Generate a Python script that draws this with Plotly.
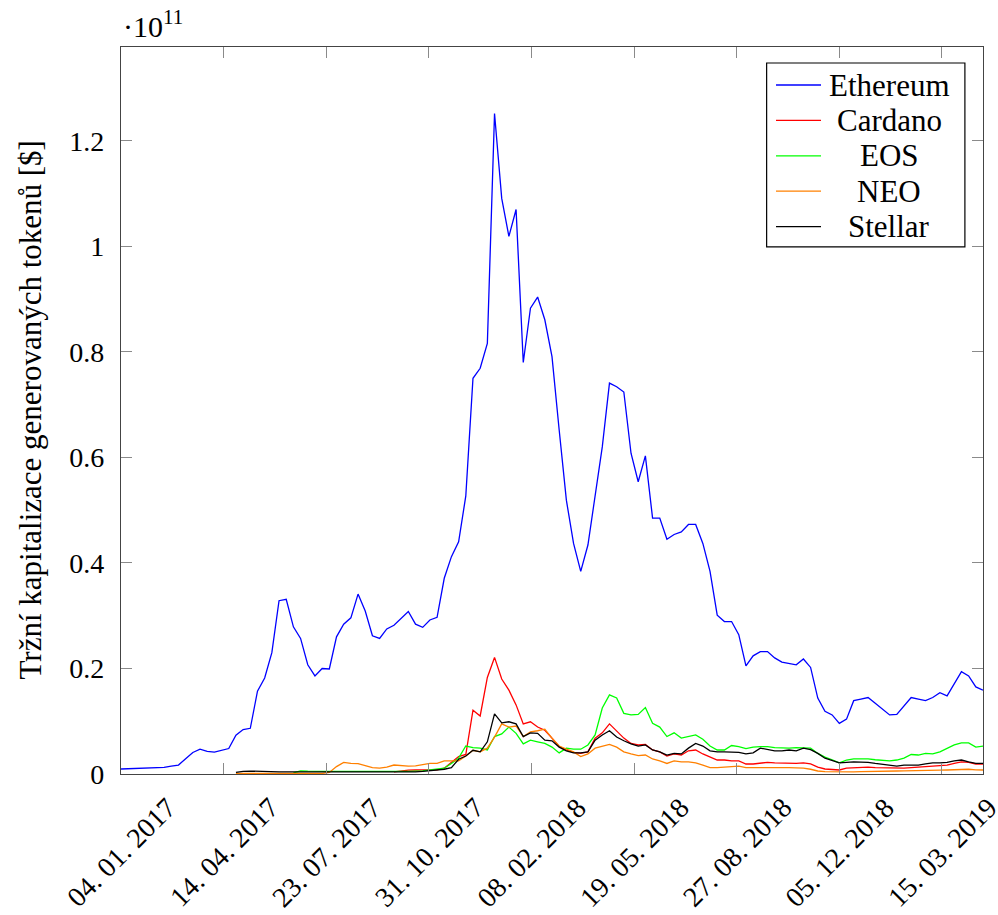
import pandas as pd
import plotly.graph_objects as go

# ---------------- data (market cap, billions USD, weekly from 2017-01-04) ----------------
start_date = "2017-01-04"
n_weeks = 121

series_names = ["Ethereum", "Cardano", "EOS", "NEO", "Stellar"]
series_colors = ["#0000ff", "#ff0000", "#00ff00", "#ff8000", "#000000"]

ethereum = [
    0.95, 1.0, 1.05, 1.1, 1.15, 1.2, 1.27, 1.48, 1.7, 2.9,
    4.08, 4.70, 4.30, 4.13, 4.55, 4.83, 7.36, 8.42, 8.66, 15.7,
    18.2, 23.0, 32.85, 33.1, 27.9, 25.7, 20.7, 18.6, 20.0, 19.9,
    26.0, 28.4, 29.6, 34.1, 30.9, 26.2, 25.7, 27.5, 28.2, 29.5,
    30.8, 28.4, 27.8, 29.2, 29.7, 37.1, 41.2, 44.0, 52.7, 75.0,
    76.9, 81.6, 125.2, 109.1, 101.9, 107.0, 78.0, 88.3, 90.4, 86.1,
    79.1, 65.2, 51.9, 43.7, 38.4, 43.4, 52.3, 62.0, 74.1, 73.4,
    72.4, 60.8, 55.4, 60.3, 48.5, 48.5, 44.5, 45.4, 45.9, 47.3,
    47.3, 43.7, 38.4, 30.1, 28.9, 28.9, 26.4, 20.5, 22.4, 23.2,
    23.2, 22.0, 21.2, 21.0, 20.7, 21.8, 20.2, 14.4, 11.9, 11.2,
    9.6, 10.4, 13.9, 14.2, 14.5, 13.4, 12.3, 11.2, 11.3, 12.8,
    14.5, 14.2, 13.9, 14.5, 15.4, 14.8, 17.2, 19.4, 18.6, 16.5,
    15.9,
]

cardano = [None] * 38 + [
    0.4, 0.6, 0.75, 0.76, 0.76, 0.76, 0.8, 1.1, 2.2, 3.3,
    3.7, 12.1, 11.0, 18.3, 22.1, 18.0, 15.9, 13.1, 9.5, 9.9,
    8.9, 8.3, 6.8, 5.2, 4.55, 4.1, 3.9, 4.2, 6.8, 7.8,
    9.5, 8.2, 6.8, 5.8, 5.5, 5.6, 4.55, 4.2, 3.4, 3.8,
    3.6, 4.4, 4.55, 3.8, 3.2, 2.65, 2.65, 2.5, 2.5, 1.9,
    1.9, 2.1, 2.2, 2.1, 2.05, 2.0, 2.0, 2.1, 1.9, 1.3,
    0.95, 0.85, 0.76, 1.1, 1.15, 1.2, 1.3, 1.2, 1.15, 1.1,
    1.1, 1.1, 1.2, 1.3, 1.35, 1.4, 1.5, 1.7, 2.0, 2.3,
    2.2, 1.9, 1.9,
]

eos = [None] * 24 + [
    0.2, 0.6, 0.55, 0.5, 0.5, 0.5, 0.5, 0.5, 0.45, 0.45,
    0.45, 0.4, 0.4, 0.4, 0.45, 0.5, 0.5, 0.55, 0.6, 0.8,
    1.0, 1.1, 2.0, 3.0, 5.3, 5.0, 4.9, 4.55, 7.1, 7.6,
    8.9, 7.7, 5.7, 6.4, 6.1, 5.8, 5.1, 4.0, 4.9, 4.7,
    4.7, 5.5, 7.4, 12.5, 15.0, 14.4, 11.5, 11.2, 11.3, 12.6,
    9.6, 8.9, 7.1, 7.8, 6.8, 7.1, 7.4, 6.6, 5.3, 4.55,
    4.55, 5.4, 5.2, 4.8, 5.1, 5.2, 5.2, 5.0, 4.9, 4.9,
    5.0, 4.9, 4.9, 3.9, 3.2, 2.7, 2.1, 2.65, 2.85, 2.85,
    2.85, 2.7, 2.6, 2.5, 2.65, 3.0, 3.7, 3.6, 3.9, 3.8,
    4.2, 4.9, 5.5, 5.9, 5.9, 5.1, 5.3,
]

neo = [None] * 16 + [
    0.1, 0.1, 0.1, 0.1, 0.1, 0.1, 0.1, 0.1, 0.1, 0.1,
    0.1, 0.1, 0.1, 0.3, 1.4, 2.2, 2.0, 1.95, 1.6, 1.2,
    1.1, 1.3, 1.7, 1.6, 1.5, 1.55, 1.8, 2.0, 2.0, 2.5,
    2.5, 2.5, 3.4, 4.5, 4.2, 4.9, 7.0, 9.5, 8.9, 9.1,
    7.1, 8.0, 8.2, 8.5, 6.8, 5.3, 4.7, 4.2, 3.3, 3.8,
    4.9, 5.2, 5.6, 5.1, 4.2, 3.8, 3.5, 3.6, 2.85, 2.5,
    2.0, 2.5, 2.3, 2.3, 2.1, 1.7, 1.2, 1.2, 1.3, 1.4,
    1.5, 1.2, 1.2, 1.3, 1.3, 1.2, 1.2, 1.2, 1.15, 1.1,
    0.9, 0.57, 0.44, 0.4, 0.38, 0.4, 0.42, 0.45, 0.5, 0.5,
    0.52, 0.57, 0.57, 0.6, 0.6, 0.63, 0.65, 0.7, 0.72, 0.76,
    0.85, 0.95, 0.9, 0.8, 0.76,
]

stellar = [None] * 16 + [
    0.3, 0.5, 0.55, 0.5, 0.4, 0.4, 0.4, 0.4, 0.4, 0.4,
    0.35, 0.35, 0.35, 0.35, 0.3, 0.3, 0.3, 0.3, 0.3, 0.3,
    0.3, 0.3, 0.3, 0.35, 0.35, 0.4, 0.5, 0.6, 0.8, 0.9,
    1.2, 2.8, 3.4, 4.5, 4.2, 6.1, 11.4, 9.7, 9.9, 9.5,
    7.1, 7.8, 7.7, 6.4, 6.3, 5.1, 4.4, 4.0, 4.0, 4.2,
    6.4, 7.4, 8.2, 7.0, 6.3, 5.7, 5.3, 5.5, 4.55, 4.2,
    3.6, 3.9, 3.8, 4.9, 5.8, 5.3, 4.4, 4.2, 4.2, 4.2,
    4.1, 3.8, 4.0, 4.9, 4.7, 4.4, 4.4, 4.55, 4.4, 4.9,
    4.6, 3.9, 3.0, 2.5, 2.1, 2.2, 2.3, 2.25, 2.2, 2.0,
    1.8, 1.6, 1.5, 1.7, 1.7, 1.7, 1.9, 2.1, 2.1, 2.2,
    2.5, 2.65, 2.3, 2.0, 2.0,
]

x_tick_dates = ["2017-01-04", "2017-04-14", "2017-07-23", "2017-10-31", "2018-02-08",
                "2018-05-19", "2018-08-27", "2018-12-05", "2019-03-15"]
x_tick_labels = ["04. 01. 2017", "14. 04. 2017", "23. 07. 2017", "31. 10. 2017", "08. 02. 2018",
                 "19. 05. 2018", "27. 08. 2018", "05. 12. 2018", "15. 03. 2019"]
y_tick_values = [0, 0.2e11, 0.4e11, 0.6e11, 0.8e11, 1.0e11, 1.2e11]
y_tick_labels = ["0", "0.2", "0.4", "0.6", "0.8", "1", "1.2"]
y_title = "Tržní kapitalizace generovaných tokenů [$]"

# -----------------------------------------------------------------------------------------
dates = pd.date_range(start_date, periods=n_weeks, freq="7D")
all_series = [ethereum, cardano, eos, neo, stellar]
for s in all_series:
    assert len(s) == n_weeks, len(s)

FONT = "Liberation Serif"
FS = 28       # numbers
FS_WORDS = 31 # words (Computer Modern is wider than Times)

fig = go.Figure()
for name, color, vals in zip(series_names, series_colors, all_series):
    fig.add_trace(go.Scatter(
        x=dates, y=[None if v is None else v * 1e9 for v in vals],
        mode="lines", name=name, line=dict(color=color, width=1.3),
        showlegend=False,
    ))

fig.update_layout(
    width=998, height=915,
    margin=dict(l=121, r=15, t=47, b=141),
    paper_bgcolor="white", plot_bgcolor="white",
    font=dict(family=FONT, size=FS, color="black"),
)
fig.update_xaxes(
    type="date", range=[dates[0], dates[-1]],
    tickvals=x_tick_dates, showticklabels=False,
    ticks="inside", ticklen=11, tickwidth=1, tickcolor="#8a8a8a",
    showline=True, linecolor="#444444", linewidth=1.3, mirror="allticks",
    showgrid=False, zeroline=False,
)
fig.update_yaxes(
    range=[0, 1.378e11],
    tickvals=y_tick_values, ticktext=y_tick_labels,
    ticks="inside", ticklen=11, tickwidth=1, tickcolor="#8a8a8a",
    showline=True, linecolor="#444444", linewidth=1.3, mirror="allticks",
    showgrid=False, zeroline=False, ticklabelstandoff=10,
)

# rotated x tick labels (centred under the ticks, as in the original)
for d, lab in zip(x_tick_dates, x_tick_labels):
    fig.add_annotation(x=d, xref="x", y=0, yref="paper", yshift=-78,
                       text=lab, textangle=-45, showarrow=False,
                       xanchor="center", yanchor="middle",
                       font=dict(family=FONT, size=FS))

# y axis title
fig.add_annotation(x=0, xref="paper", xshift=-91, y=0.5, yref="paper",
                   text=y_title, textangle=-90, showarrow=False,
                   xanchor="center", yanchor="middle",
                   font=dict(family=FONT, size=FS_WORDS))

# exponent marker
fig.add_annotation(x=0, xref="paper", y=1, yref="paper", yshift=2,
                   text="·10<sup>11</sup>", showarrow=False,
                   xanchor="left", yanchor="bottom",
                   font=dict(family=FONT, size=30))

# legend box (centred entries, like pgfplots)
lx0, lx1, ly0, ly1 = 0.749, 0.979, 0.725, 0.978
fig.add_shape(type="rect", xref="paper", yref="paper", x0=lx0, x1=lx1, y0=ly0, y1=ly1,
              line=dict(color="black", width=1.2), fillcolor="white", layer="above")
row_h = 35.4 / 727
first_row = (774 - 85) / 727
for i, (name, color) in enumerate(zip(series_names, series_colors)):
    yy = first_row - i * row_h
    fig.add_shape(type="line", xref="paper", yref="paper",
                  x0=(776 - 121) / 862, x1=(821 - 121) / 862, y0=yy, y1=yy,
                  line=dict(color=color, width=1.3), layer="above")
    fig.add_annotation(x=(889 - 121) / 862, xref="paper", y=yy, yref="paper",
                       text=name, showarrow=False, xanchor="center", yanchor="middle",
                       font=dict(family=FONT, size=FS_WORDS))

fig.write_html("out.html")
